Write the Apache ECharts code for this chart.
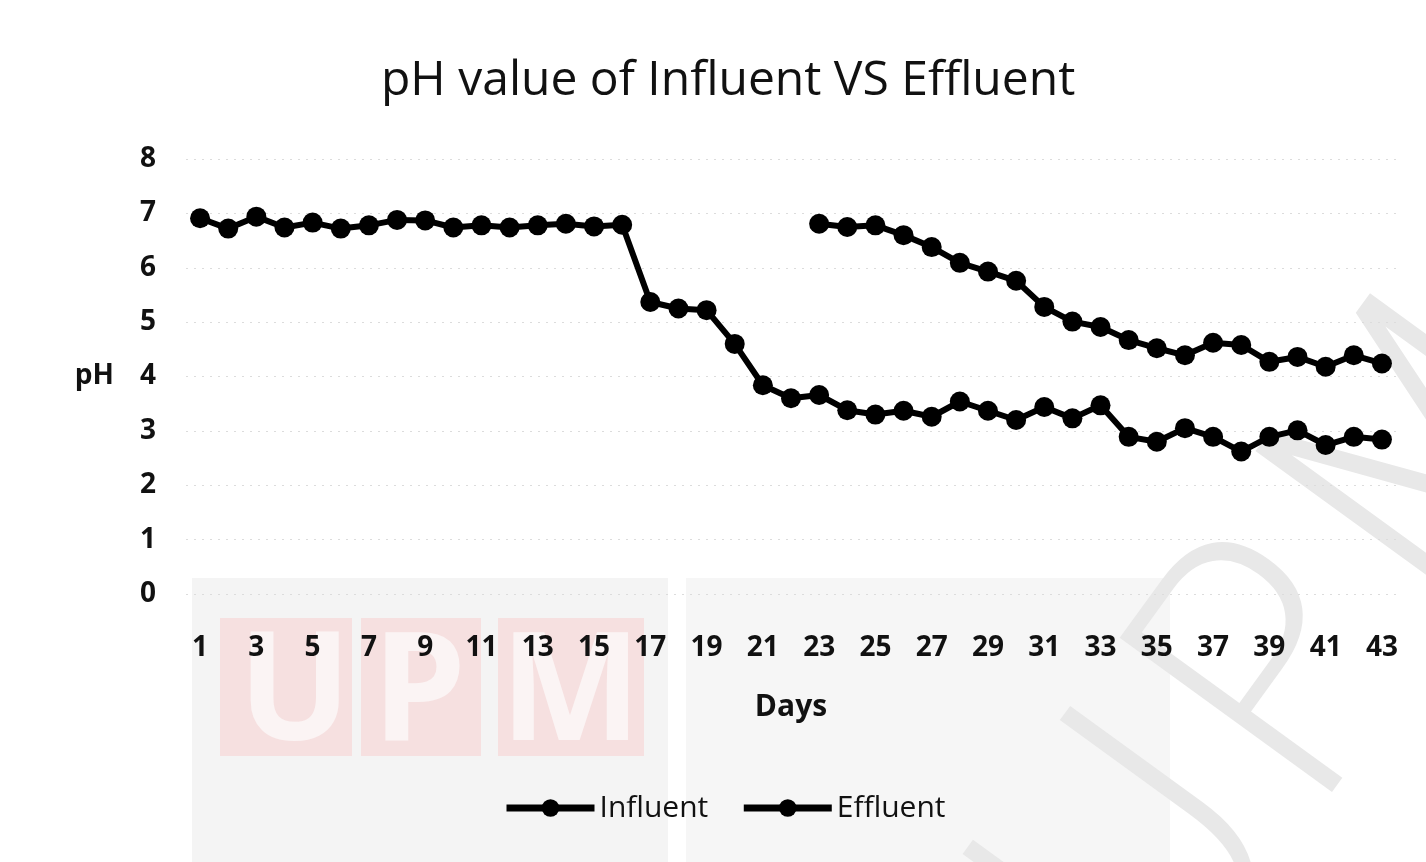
<!DOCTYPE html>
<html>
<head>
<meta charset="utf-8">
<script src="https://cdn.jsdelivr.net/npm/echarts@6/dist/echarts.min.js"></script>
<style>
  html, body { margin: 0; padding: 0; background: #fff; }
  #chart { width: 1426px; height: 862px; }
</style>
</head>
<body>
<div id="chart"></div>
<script>
// Sampling days 1..43
const days = Array.from({ length: 43 }, (_, i) => String(i + 1));

// pH of the influent, measured every day
const influentPH = [
  6.91, 6.72, 6.94, 6.74, 6.83, 6.72, 6.78, 6.88, 6.87, 6.74,
  6.78, 6.74, 6.78, 6.81, 6.76, 6.79, 5.37, 5.25, 5.22, 4.60,
  3.84, 3.60, 3.66, 3.38, 3.30, 3.37, 3.26, 3.54, 3.37, 3.20,
  3.44, 3.23, 3.47, 2.89, 2.80, 3.05, 2.89, 2.62, 2.89, 3.01,
  2.74, 2.89, 2.84
];

// pH of the effluent, recorded from day 23 onward
const effluentPH = [
  null, null, null, null, null, null, null, null, null, null,
  null, null, null, null, null, null, null, null, null, null,
  null, null, 6.81, 6.75, 6.78, 6.60, 6.38, 6.09, 5.93, 5.76,
  5.28, 5.01, 4.91, 4.67, 4.52, 4.39, 4.62, 4.58, 4.27, 4.36,
  4.18, 4.39, 4.24
];

const yTicks = { min: 0, max: 8, interval: 1 };

const chart = echarts.init(document.getElementById('chart'), null, { renderer: 'canvas' });

const labelFont = { fontFamily: 'Open Sans', fontWeight: 'bold', fontSize: 28, color: '#111' };

// faint UPM watermark behind the plot
const watermark = [
  { type: 'rect', z: -10, shape: { x: 192, y: 578, width: 476, height: 284 }, style: { fill: '#f4f4f4' } },
  { type: 'rect', z: -10, shape: { x: 686, y: 578, width: 484, height: 284 }, style: { fill: '#f6f6f6' } },
  { type: 'rect', z: -9, shape: { x: 220, y: 618, width: 132, height: 138 }, style: { fill: '#f6e0e0' } },
  { type: 'rect', z: -9, shape: { x: 361, y: 618, width: 120, height: 138 }, style: { fill: '#f6e0e0' } },
  { type: 'rect', z: -9, shape: { x: 498, y: 618, width: 146, height: 138 }, style: { fill: '#f6e0e0' } },
  { type: 'text', z: -8, left: 238, top: 622, style: { text: 'U', font: 'bold 150px "Open Sans"', fill: '#fbf4f4' } },
  { type: 'text', z: -8, left: 372, top: 622, style: { text: 'P', font: 'bold 150px "Open Sans"', fill: '#fbf4f4' } },
  { type: 'text', z: -8, left: 500, top: 622, style: { text: 'M', font: 'bold 150px "Open Sans"', fill: '#fbf4f4' } },
  {
    type: 'text', z: -7, x: 930, y: 880, rotation: Math.PI * 0.30,
    style: { text: 'UPM', font: '200 360px "DejaVu Sans"', fill: '#e8e8e8' }
  }
];

const option = {
  backgroundColor: '#ffffff',
  animation: false,
  title: {
    text: 'pH value of Influent VS Effluent',
    left: 376,
    top: 52,
    textStyle: { fontFamily: 'Open Sans', fontWeight: 'normal', fontSize: 48, color: '#111' }
  },
  legend: {
    bottom: 34,
    left: 498,
    itemWidth: 88,
    itemHeight: 22,
    itemGap: 32,
    lineStyle: { width: 7 },
    textStyle: { fontFamily: 'Open Sans', fontSize: 30, fontWeight: 500, color: '#111' },
    data: ['Influent', 'Effluent']
  },
  grid: { left: 186, right: 30, top: 159, bottom: 268, containLabel: false },
  xAxis: {
    type: 'category',
    data: days,
    boundaryGap: true,
    name: 'Days',
    nameLocation: 'middle',
    nameGap: 98,
    nameTextStyle: Object.assign({}, labelFont, { fontSize: 30 }),
    axisLine: { show: false },
    axisTick: { show: false },
    axisLabel: Object.assign({ interval: 1, margin: 40 }, labelFont)
  },
  yAxis: {
    type: 'value',
    min: yTicks.min,
    max: yTicks.max,
    interval: yTicks.interval,
    name: 'pH',
    nameLocation: 'middle',
    nameRotate: 0,
    nameGap: 72,
    nameTextStyle: Object.assign({}, labelFont, { fontSize: 28 }),
    axisLine: { show: false },
    axisTick: { show: false },
    axisLabel: Object.assign({ margin: 30 }, labelFont),
    splitLine: { lineStyle: { color: '#dcdcdc', width: 1, type: [2, 6] } }
  },
  series: [
    {
      name: 'Influent',
      type: 'line',
      data: influentPH,
      symbol: 'circle',
      symbolSize: 20,
      showAllSymbol: true,
      connectNulls: false,
      itemStyle: { color: '#000' },
      lineStyle: { color: '#000', width: 6 }
    },
    {
      name: 'Effluent',
      type: 'line',
      data: effluentPH,
      symbol: 'circle',
      symbolSize: 20,
      showAllSymbol: true,
      connectNulls: false,
      itemStyle: { color: '#000' },
      lineStyle: { color: '#000', width: 6 }
    }
  ],
  graphic: watermark
};

chart.setOption(option);
</script>
</body>
</html>
